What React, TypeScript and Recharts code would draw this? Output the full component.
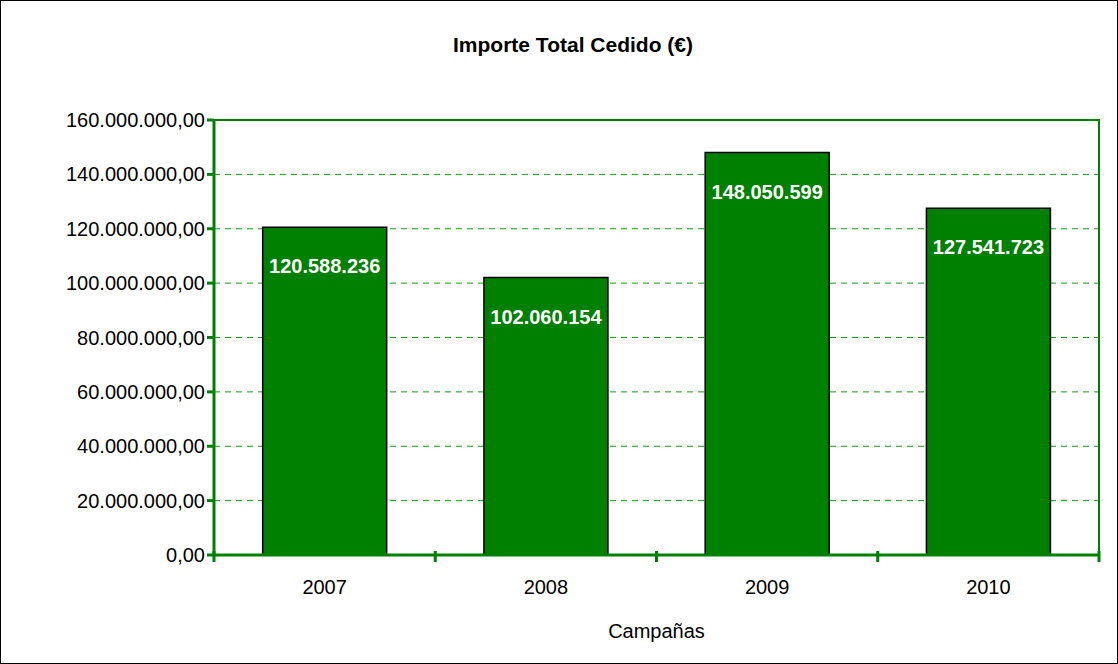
import React from 'react';
import { BarChart, Bar, XAxis, YAxis, CartesianGrid, LabelList, ReferenceArea } from 'recharts';

const years = ['2007', '2008', '2009', '2010'];
const importes = [120588236, 102060154, 148050599, 127541723];
const yTicks = [0, 20000000, 40000000, 60000000, 80000000, 100000000, 120000000, 140000000, 160000000];

const data = years.map((year, i) => ({ year, importe: importes[i] }));

const GREEN = '#008000';
const GRID = '#1a961a';
const FONT = '"Liberation Sans", Arial, sans-serif';

const miles = (n: number) => String(Math.round(n)).replace(/\B(?=(\d{3})+(?!\d))/g, '.');
const fmtY = (v: number) => `${miles(v)},00`;

// category tick: label in the middle, tick marks on the band edges
const YearTick = (props: any) => {
  const { x, y, payload, index } = props;
  const half = payload && payload.offset ? payload.offset : 110.6;
  const y0 = y - 8;
  return (
    <g>
      <line x1={x - half} x2={x - half} y1={y0 - 4} y2={y0 + 7} stroke={GREEN} strokeWidth={3} />
      {index === years.length - 1 && (
        <line x1={x + half} x2={x + half} y1={y0 - 4} y2={y0 + 7} stroke={GREEN} strokeWidth={3} />
      )}
      <text x={x} y={y0 + 32} textAnchor="middle" dominantBaseline="central" fontSize={20} fill="#000" fontFamily={FONT}>
        {payload.value}
      </text>
    </g>
  );
};

const App: React.FC = () => {
  return (
    <div style={{ position: 'absolute', left: 0, top: 0, width: 1118, height: 664, border: '1px solid #000', boxSizing: 'border-box', background: '#fff', fontFamily: FONT }}>
      <div style={{ position: 'absolute', left: 0, width: 1144, top: 32, textAlign: 'center', fontWeight: 'bold', fontSize: 21 }}>
        Importe Total Cedido (€)
      </div>
      <div style={{ position: 'absolute', left: -1, top: -1 }}>
        <BarChart width={1118} height={664} data={data} margin={{ top: 120, right: 19, bottom: 0, left: 14 }} barCategoryGap="22%">
          <CartesianGrid vertical={false} stroke={GRID} strokeDasharray="6 5" horizontalValues={yTicks} />
          <ReferenceArea y1={0} y2={160000000} fill="none" stroke={GREEN} strokeWidth={2} ifOverflow="visible" />
          <XAxis
            dataKey="year"
            axisLine={{ stroke: GREEN, strokeWidth: 3 }}
            tickLine={false}
            tick={<YearTick />}
            height={109}
            interval={0}
            label={{ value: 'Campañas', position: 'insideBottom', offset: 26, fontSize: 20, fill: '#000', fontFamily: FONT }}
          />
          <YAxis
            domain={[0, 160000000]}
            ticks={yTicks}
            width={200}
            tickFormatter={fmtY}
            axisLine={{ stroke: GREEN, strokeWidth: 3 }}
            tickLine={{ stroke: GREEN, strokeWidth: 3 }}
            tickSize={7}
            tick={{ fontSize: 20, fill: '#000', fontFamily: FONT }}
            interval={0}
          />
          <Bar dataKey="importe" fill={GREEN} stroke="#000" strokeWidth={1.5} isAnimationActive={false}>
            <LabelList dataKey="importe" position="insideTop" offset={32} formatter={(v: any) => miles(Number(v))} fill="#fff" fontSize={20} fontWeight="bold" fontFamily={FONT} />
          </Bar>
        </BarChart>
      </div>
    </div>
  );
};

export default App;
